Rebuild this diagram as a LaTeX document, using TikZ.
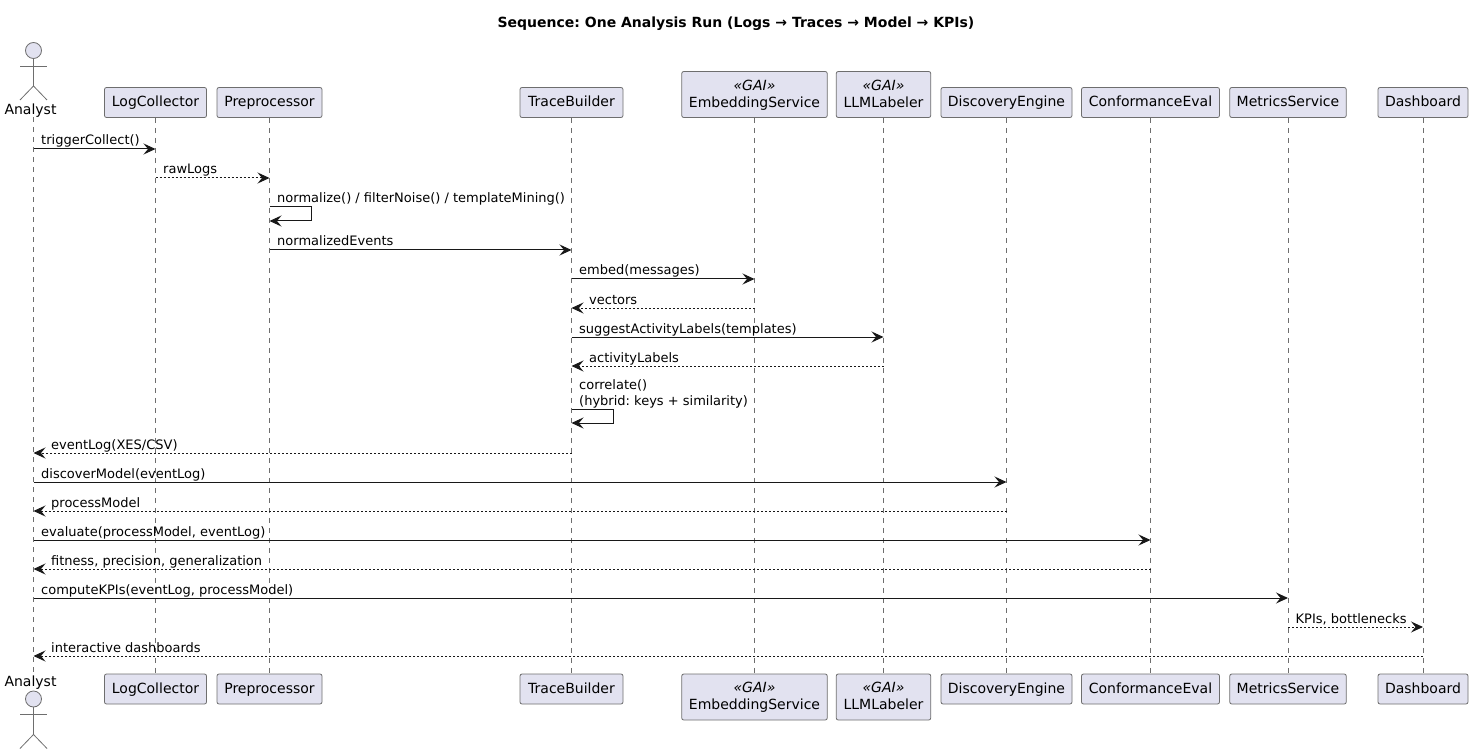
\documentclass[tikz,border=0pt]{standalone}
\usepackage{fontspec}
\usepackage{xcolor}
\setmainfont{DejaVu Sans}
\usetikzlibrary{arrows.meta}
\definecolor{Part}{HTML}{E2E2F0}
\definecolor{Ink}{HTML}{181818}
\definecolor{Life}{HTML}{6E6E6E}
\tikzset{
  partshape/.style={draw=Life,fill=Part,rounded corners=2pt,line width=0.8pt,inner sep=0pt,
    align=center,font=\fontsize{14}{17}\selectfont},
  partbox/.style={partshape,minimum height=30pt,text height=11.5pt,text depth=2.5pt},
  gaibox/.style={partshape,minimum height=46pt,text depth=2pt},
  lifeline/.style={draw=Life,line width=0.7pt,dash pattern=on 5pt off 5pt},
  actorline/.style={draw=Life,line width=0.8pt},
  syncmsg/.style={draw=Ink,line width=1pt,-{Stealth[length=12pt,width=11pt,inset=4.5pt]}},
  replymsg/.style={syncmsg,dash pattern=on 2pt off 2pt},
  msglabel/.style={font=\fontsize{13}{16}\selectfont,anchor=base west,inner sep=0pt,text=black},
}
\begin{document}
\frenchspacing
\begin{tikzpicture}[x=1pt,y=-1pt]
  \useasboundingbox (0,0) rectangle (1473,754);
  \node[font=\fontsize{14}{17}\selectfont\bfseries] (title) at (736,24) {Sequence: One Analysis Run (Logs → Traces → Model → KPIs)};

  % parts, top and bottom
  \foreach \name/\x/\boxw in {LogCollector/155.5/102, Preprocessor/269.5/105, TraceBuilder/571.5/103,
    DiscoveryEngine/1006.5/131, ConformanceEval/1150.5/138, MetricsService/1288/116.5, Dashboard/1423/90} {
    \node[partbox,minimum width=\boxw pt] (\name-top) at (\x,102.5) {\name};
    \node[partbox,minimum width=\boxw pt] (\name-bot) at (\x,689) {\name};
  }
  \foreach \name/\x/\boxw in {EmbeddingService/754.5/145.5, LLMLabeler/883.5/94.5} {
    \node[gaibox,minimum width=\boxw pt] (\name-top) at (\x,94.5) {\textit{«GAI»}\\\name};
    \node[gaibox,minimum width=\boxw pt] (\name-bot) at (\x,697) {\textit{«GAI»}\\\name};
  }

  % the actor
  \coordinate (Analyst-top) at (33.5,117);
  \coordinate (Analyst-bot) at (33.5,674);
  \node[font=\fontsize{14}{17}\selectfont,inner sep=0pt] (analyst-upper) at (30.5,111) {Analyst};
  \node[font=\fontsize{14}{17}\selectfont,inner sep=0pt] (analyst-lower) at (30.5,683) {Analyst};
  \foreach \y in {50.5,699} {
    \draw[actorline,fill=Part] (33.5,\y) circle (8);
    \draw[actorline] (33.5,\y+8) -- (33.5,\y+35.5) -- (20,\y+49.5);
    \draw[actorline] (33.5,\y+35.5) -- (47,\y+49.5);
    \draw[actorline] (20,\y+15.5) -- (47,\y+15.5);
  }

  % lifelines
  \foreach \name in {Analyst,LogCollector,Preprocessor,TraceBuilder,EmbeddingService,LLMLabeler,
    DiscoveryEngine,ConformanceEval,MetricsService,Dashboard} {
    \draw[lifeline] (\name-top) -- (\name-bot);
  }

  % messages, left to right
  \foreach \src/\dst/\y/\sty/\txt in {
    Analyst/LogCollector/149/syncmsg/{triggerCollect()},
    LogCollector/Preprocessor/178/replymsg/{rawLogs},
    Preprocessor/TraceBuilder/250/syncmsg/{normalizedEvents},
    TraceBuilder/EmbeddingService/279/syncmsg/{embed(messages)},
    TraceBuilder/LLMLabeler/337/syncmsg/{suggestActivityLabels(templates)},
    Analyst/DiscoveryEngine/482/syncmsg/{discoverModel(eventLog)},
    Analyst/ConformanceEval/540/syncmsg/{evaluate(processModel, eventLog)},
    Analyst/MetricsService/598/syncmsg/{computeKPIs(eventLog, processModel)},
    MetricsService/Dashboard/627/replymsg/{KPIs, bottlenecks}} {
    \coordinate (from\y) at (\src-top |- 0,\y);
    \coordinate (to\y) at (\dst-top |- 0,\y);
    \draw[\sty] (from\y) -- (to\y);
    \node[msglabel] (label\y) at ([xshift=7.5pt,yshift=4pt]from\y) {\txt};
  }
  % messages, right to left
  \foreach \src/\dst/\y/\txt in {
    EmbeddingService/TraceBuilder/308/{vectors},
    LLMLabeler/TraceBuilder/366/{activityLabels},
    TraceBuilder/Analyst/453/{eventLog(XES/CSV)},
    DiscoveryEngine/Analyst/511/{processModel},
    ConformanceEval/Analyst/569/{fitness, precision, generalization},
    Dashboard/Analyst/656/{interactive dashboards}} {
    \coordinate (from\y) at (\src-top |- 0,\y);
    \coordinate (to\y) at (\dst-top |- 0,\y);
    \draw[replymsg] (from\y) -- (to\y);
    \node[msglabel] (label\y) at ([xshift=17.5pt,yshift=4pt]to\y) {\txt};
  }
  % self messages
  \foreach \who/\y/\txt in {
    Preprocessor/207/{normalize() / filterNoise() / templateMining()},
    TraceBuilder/409/{(hybrid: keys + similarity)}} {
    \coordinate (from\y) at (\who-top |- 0,\y);
    \coordinate (to\y) at (\who-top |- 0,\y+14);
    \draw[syncmsg] (from\y) -- ++(42,0) -- ++(0,14) -- (to\y);
    \node[msglabel] (label\y) at ([xshift=7.5pt,yshift=4pt]from\y) {\txt};
  }
  \node[msglabel] (label409b) at ([yshift=16pt]label409.base west) {correlate()};
\end{tikzpicture}
\end{document}
